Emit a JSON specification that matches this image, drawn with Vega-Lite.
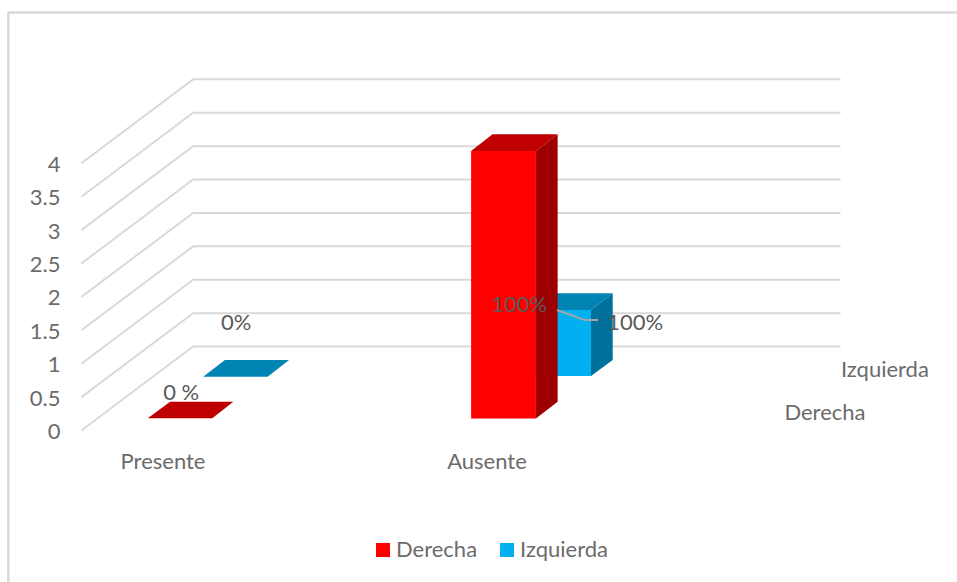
{
  "$schema": "https://vega.github.io/schema/vega-lite/v6.json",
  "width": 957,
  "height": 582,
  "padding": 0,
  "autosize": {"type": "none"},
  "background": "white",
  "view": {"stroke": null},
  "config": {"font": "Lato"},
  "datasets": {
    "frame": [
      {"x": 0.5225, "x2": 0.5225, "y": -2.268, "y2": 6.257},
      {"x": 0.5225, "x2": 3.4506, "y": 6.257, "y2": 6.257}
    ],
    "grid": [
      {"level": 0, "x": 0.748, "y": 0}, {"level": 0, "x": 1.093, "y": 1.257}, {"level": 0, "x": 3.091, "y": 1.257},
      {"level": 0.5, "x": 0.748, "y": 0.5}, {"level": 0.5, "x": 1.093, "y": 1.757}, {"level": 0.5, "x": 3.091, "y": 1.757},
      {"level": 1, "x": 0.748, "y": 1}, {"level": 1, "x": 1.093, "y": 2.257}, {"level": 1, "x": 3.091, "y": 2.257},
      {"level": 1.5, "x": 0.748, "y": 1.5}, {"level": 1.5, "x": 1.093, "y": 2.757}, {"level": 1.5, "x": 3.091, "y": 2.757},
      {"level": 2, "x": 0.748, "y": 2}, {"level": 2, "x": 1.093, "y": 3.257}, {"level": 2, "x": 3.091, "y": 3.257},
      {"level": 2.5, "x": 0.748, "y": 2.5}, {"level": 2.5, "x": 1.093, "y": 3.757}, {"level": 2.5, "x": 3.091, "y": 3.757},
      {"level": 3, "x": 0.748, "y": 3}, {"level": 3, "x": 1.093, "y": 4.257}, {"level": 3, "x": 3.091, "y": 4.257},
      {"level": 3.5, "x": 0.748, "y": 3.5}, {"level": 3.5, "x": 1.093, "y": 4.757}, {"level": 3.5, "x": 3.091, "y": 4.757},
      {"level": 4, "x": 0.748, "y": 4}, {"level": 4, "x": 1.093, "y": 5.257}, {"level": 4, "x": 3.091, "y": 5.257}
    ],
    "walls": [
      {"face": "Izquierda", "id": "bf", "x": 2.120, "y": 1.803, "y2": 0.815},
      {"face": "Izquierda", "id": "bf", "x": 2.321, "y": 1.803, "y2": 0.815},
      {"face": "Izquierda lado", "id": "bs", "x": 2.321, "y": 1.803, "y2": 0.815},
      {"face": "Izquierda lado", "id": "bs", "x": 2.388, "y": 2.053, "y2": 1.055},
      {"face": "Derecha", "id": "rf", "x": 1.951, "y": 4.184, "y2": 0.181},
      {"face": "Derecha", "id": "rf", "x": 2.151, "y": 4.184, "y2": 0.181},
      {"face": "Derecha lado", "id": "rs", "x": 2.151, "y": 4.184, "y2": 0.181},
      {"face": "Derecha lado", "id": "rs", "x": 2.218, "y": 4.434, "y2": 0.431}
    ],
    "tops": [
      {"series": "Izquierda", "face": "Izquierda tapa", "id": "a", "y": 0.805, "x": 1.124, "x2": 1.323},
      {"series": "Izquierda", "face": "Izquierda tapa", "id": "a", "y": 1.055, "x": 1.191, "x2": 1.389},
      {"series": "Izquierda", "face": "Izquierda tapa", "id": "b", "y": 1.803, "x": 2.120, "x2": 2.321},
      {"series": "Izquierda", "face": "Izquierda tapa", "id": "b", "y": 2.053, "x": 2.185, "x2": 2.388},
      {"series": "Derecha", "face": "Derecha tapa", "id": "c", "y": 0.182, "x": 0.953, "x2": 1.152},
      {"series": "Derecha", "face": "Derecha tapa", "id": "c", "y": 0.431, "x": 1.022, "x2": 1.217},
      {"series": "Derecha", "face": "Derecha tapa", "id": "d", "y": 4.184, "x": 1.951, "x2": 2.151},
      {"series": "Derecha", "face": "Derecha tapa", "id": "d", "y": 4.434, "x": 2.017, "x2": 2.218}
    ],
    "leader": [
      {"x": 2.216, "y": 1.803},
      {"x": 2.302, "y": 1.653},
      {"x": 2.343, "y": 1.653}
    ],
    "dataLabels": [
      {"label": "0 %", "x": 1.056, "y": 0.555},
      {"label": "0%", "x": 1.226, "y": 1.615},
      {"label": "100%", "x": 2.099, "y": 1.885},
      {"label": "100%", "x": 2.457, "y": 1.615}
    ],
    "axisLabels": [
      {"label": "Presente", "x": 1.0, "y": -0.475},
      {"label": "Ausente", "x": 2.0, "y": -0.475},
      {"label": "Izquierda", "x": 3.228, "y": 0.905},
      {"label": "Derecha", "x": 3.043, "y": 0.265}
    ]
  },
  "layer": [
    {
      "data": {"name": "frame"},
      "mark": {"type": "rule", "color": "#d9d9d9", "strokeWidth": 2.5},
      "encoding": {
        "x": {"field": "x", "type": "quantitative", "scale": {"domain": [0.4969, 3.4506], "nice": false, "zero": false}, "axis": null},
        "x2": {"field": "x2"},
        "y": {
          "field": "y", "type": "quantitative",
          "scale": {"domain": [-2.268, 6.4446], "nice": false, "zero": false},
          "axis": {"orient": "left", "offset": -62, "values": [0, 0.5, 1, 1.5, 2, 2.5, 3, 3.5, 4], "format": "~g", "title": null, "domain": false, "ticks": false, "grid": false, "labelPadding": 2, "labelOffset": 1, "labelFontSize": 22, "labelColor": "#6b6b6b", "labelFont": "Lato"}
        },
        "y2": {"field": "y2"}
      }
    },
    {
      "data": {"name": "grid"},
      "mark": {"type": "line", "color": "#d9d9d9", "strokeWidth": 2},
      "encoding": {
        "x": {"field": "x", "type": "quantitative"},
        "y": {"field": "y", "type": "quantitative"},
        "detail": {"field": "level"}
      }
    },
    {
      "data": {"name": "tops"},
      "transform": [{"filter": "datum.series === 'Izquierda'"}],
      "mark": {"type": "area", "orient": "horizontal"},
      "encoding": {
        "y": {"field": "y", "type": "quantitative"},
        "x": {"field": "x", "type": "quantitative"},
        "x2": {"field": "x2"},
        "detail": {"field": "id"},
        "color": {"field": "face", "type": "nominal"}
      }
    },
    {
      "data": {"name": "walls"},
      "mark": {"type": "area", "orient": "vertical"},
      "encoding": {
        "x": {"field": "x", "type": "quantitative"},
        "y": {"field": "y", "type": "quantitative"},
        "y2": {"field": "y2"},
        "detail": {"field": "id"},
        "color": {
          "field": "face", "type": "nominal",
          "scale": {
            "domain": ["Derecha", "Izquierda", "Derecha tapa", "Derecha lado", "Izquierda tapa", "Izquierda lado"],
            "range": ["#ff0000", "#00b0f0", "#c00000", "#9e0000", "#0084b4", "#00709c"]
          },
          "legend": {
            "values": ["Derecha", "Izquierda"],
            "orient": "none", "legendX": 372, "legendY": 539, "direction": "horizontal",
            "title": null, "symbolType": "square", "symbolSize": 196, "symbolStrokeWidth": 0,
            "labelFontSize": 22, "labelColor": "#6b6b6b", "labelFont": "Lato", "columnPadding": 18, "labelOffset": 2
          }
        }
      }
    },
    {
      "data": {"name": "tops"},
      "transform": [{"filter": "datum.series === 'Derecha'"}],
      "mark": {"type": "area", "orient": "horizontal"},
      "encoding": {
        "y": {"field": "y", "type": "quantitative"},
        "x": {"field": "x", "type": "quantitative"},
        "x2": {"field": "x2"},
        "detail": {"field": "id"},
        "color": {"field": "face", "type": "nominal"}
      }
    },
    {
      "data": {"name": "leader"},
      "mark": {"type": "line", "color": "#a6a6a6", "strokeWidth": 2},
      "encoding": {
        "x": {"field": "x", "type": "quantitative"},
        "y": {"field": "y", "type": "quantitative"}
      }
    },
    {
      "data": {"name": "axisLabels"},
      "mark": {"type": "text", "fontSize": 22, "font": "Lato", "color": "#6b6b6b", "align": "center", "baseline": "middle"},
      "encoding": {
        "x": {"field": "x", "type": "quantitative"},
        "y": {"field": "y", "type": "quantitative"},
        "text": {"field": "label"}
      }
    },
    {
      "data": {"name": "dataLabels"},
      "mark": {"type": "text", "fontSize": 22, "font": "Lato", "color": "#595959", "align": "center", "baseline": "middle"},
      "encoding": {
        "x": {"field": "x", "type": "quantitative"},
        "y": {"field": "y", "type": "quantitative"},
        "text": {"field": "label"}
      }
    }
  ]
}
